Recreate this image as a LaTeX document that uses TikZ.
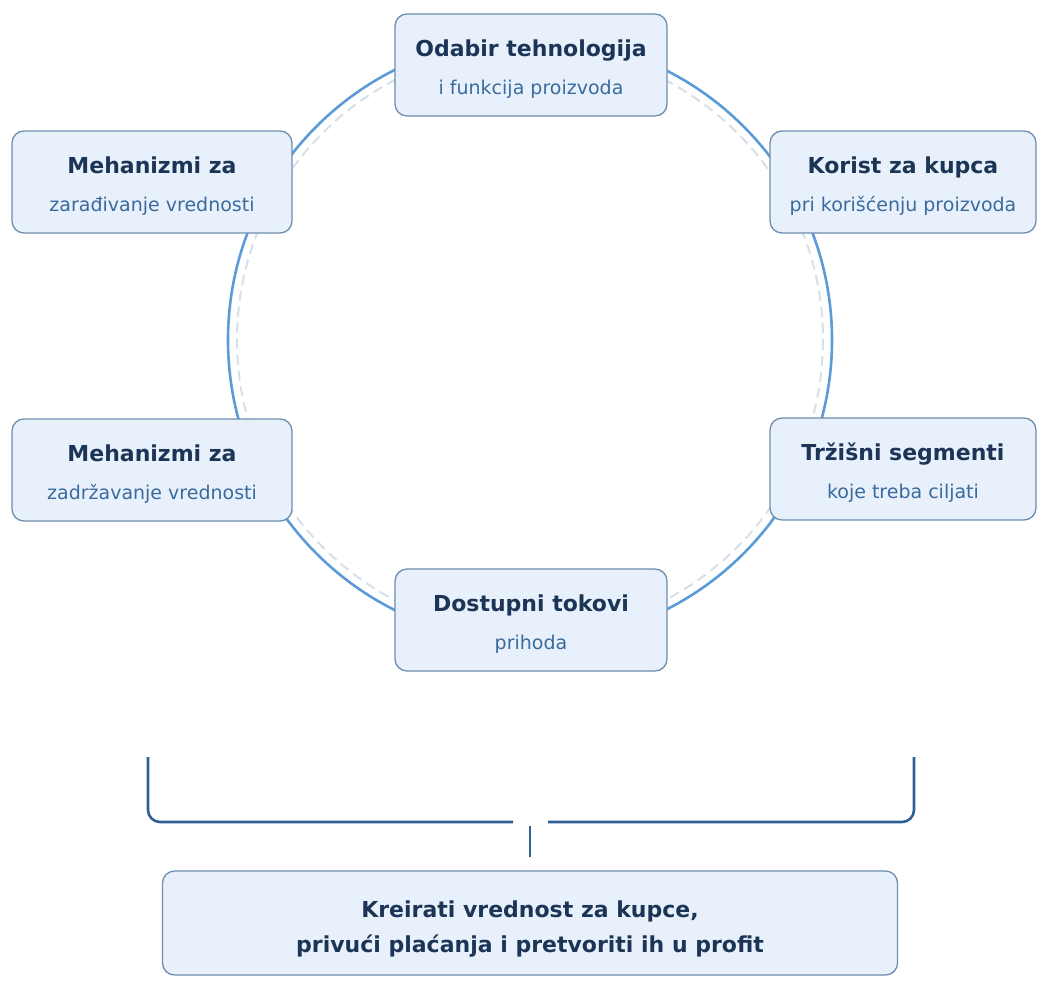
\documentclass[tikz,border=0pt]{standalone}
\usepackage{fontspec}
\setmainfont{DejaVu Sans}
\definecolor{navy}{HTML}{1C3557}
\definecolor{subblue}{HTML}{3A6A9E}
\definecolor{boxfill}{HTML}{E8F1FB}
\definecolor{boxdraw}{HTML}{6E8DB0}
\definecolor{ring}{HTML}{5D9BD8}
\definecolor{ringdash}{HTML}{D6DFEA}
\definecolor{brack}{HTML}{2F5F95}
\tikzset{
  card/.style={draw=boxdraw, line width=1.3pt, fill=boxfill, rounded corners=12pt,
    minimum height=102pt, inner sep=0pt, align=center},
  ttl/.style={font=\bfseries\fontsize{22}{38}\selectfont, text=navy},
}
\newcommand{\subl}[1]{{\mdseries\fontsize{19}{38}\selectfont\color{subblue}#1}}
\newcommand{\tstrut}{\rule{0pt}{25pt}}
\newcommand{\gstrut}{\rule{0pt}{28pt}}
\begin{document}
\begin{tikzpicture}[x=1pt,y=-1pt]
\useasboundingbox (0,0) rectangle (1038,982);
\coordinate (cen) at (530,340);
\draw[ringdash, line width=2pt, dash pattern=on 10pt off 6pt] (cen) circle (293);
\draw[ring, line width=2.6pt] (cen) circle (302);

\node[card, ttl, minimum width=272pt] (top) at (531,65) {\tstrut Odabir tehnologija\\\subl{i funkcija proizvoda}};
\node[card, ttl, minimum width=280pt] (lt) at (152,182) {\tstrut Mehanizmi za\\\subl{zarađivanje vrednosti}};
\node[card, ttl, minimum width=266pt] (rt) at (903,182) {\tstrut Korist za kupca\\\subl{pri korišćenju proizvoda}};
\node[card, ttl, minimum width=280pt] (lb) at (152,470) {\tstrut Mehanizmi za\\\subl{zadržavanje vrednosti}};
\node[card, ttl, minimum width=266pt] (rb) at (903,469) {\tstrut Tržišni segmenti\\\subl{koje treba ciljati}};
\node[card, ttl, minimum width=272pt] (bot) at (531,620) {\tstrut Dostupni tokovi\\\subl{prihoda}};

\node[card, minimum width=735pt, minimum height=104pt, font=\bfseries\fontsize{22}{35}\selectfont, text=navy] (goal) at (530,923)
  {\gstrut Kreirati vrednost za kupce,\\privući plaćanja i pretvoriti ih u profit};

\coordinate (bl) at (148,757);
\coordinate (br) at (914,757);
\coordinate (gl) at (513,822);
\coordinate (gr) at (548,822);
\coordinate (tk) at (530,826);
\draw[brack, line width=2.6pt, rounded corners=12pt] (bl) |- (gl);
\draw[brack, line width=2.6pt, rounded corners=12pt] (gr) -| (br);
\draw[brack, line width=2.6pt] (tk) -- (goal.north |- 0,857);
\end{tikzpicture}
\end{document}
